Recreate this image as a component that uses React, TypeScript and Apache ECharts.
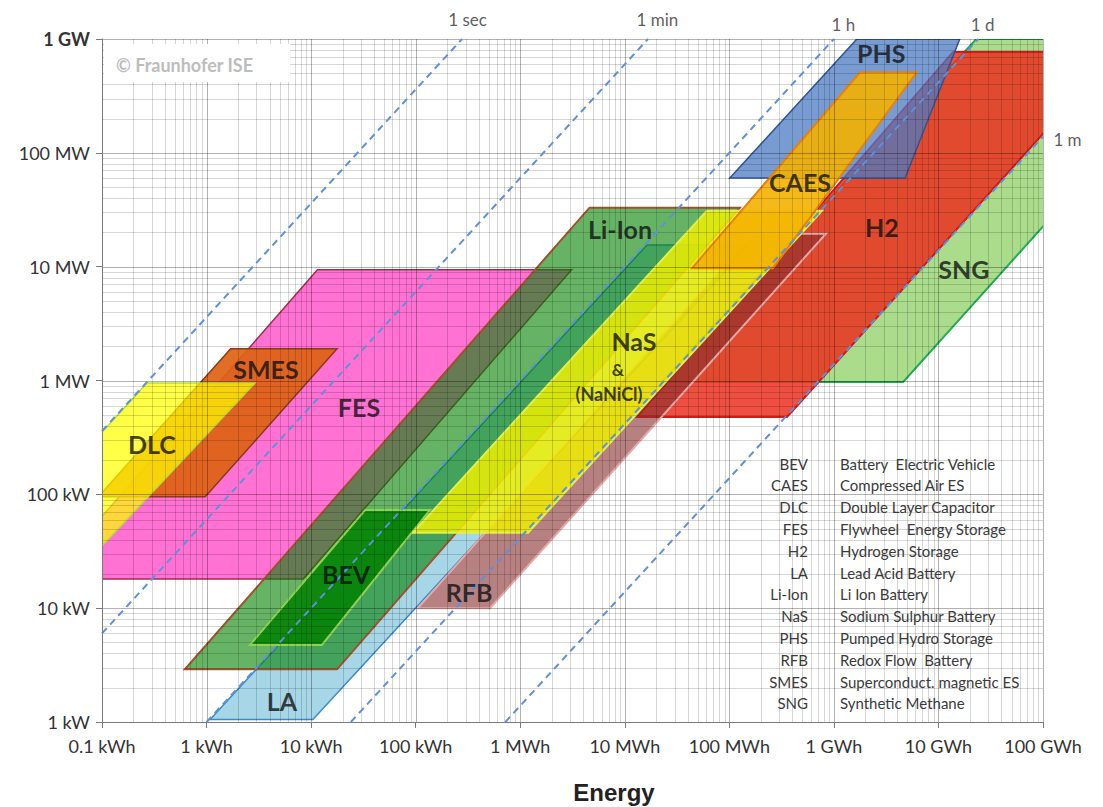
import React, { useEffect, useRef } from "react";
import * as echarts from "echarts";

// ---- axis tick labels (one per decade) ----
const energyTicks = ["0.1 kWh", "1 kWh", "10 kWh", "100 kWh", "1 MWh", "10 MWh", "100 MWh", "1 GWh", "10 GWh", "100 GWh"];
const powerTicks = ["1 kW", "10 kW", "100 kW", "1 MW", "10 MW", "100 MW", "1 GW"];

// ---- storage technology areas: vertices [energy kWh, power kW] ----
const sngArea = [[22700, 970], [4.6e6, 970], [4.1e9, 1e6], [2.3e7, 1e6]];
const fesArea = [[0.03, 18], [8.4, 18], [3100, 9400], [11.5, 9400]];
const smesArea = [[0.092, 95], [0.97, 95], [17.7, 1900], [1.7, 1900]];
const dlcArea = [[0.0083, 29], [0.082, 29], [2.9, 950], [0.27, 950]];
const laArea = [[1.08, 1.05], [10.4, 1.05], [157000, 15500], [16300, 15500]];
const liIonArea = [[0.62, 2.9], [17.7, 2.9], [126000, 33000], [4600, 33000]];
const bevArea = [[2.6, 4.75], [12.7, 4.75], [137, 73], [33, 73]];
const h2Area = [[13100, 478], [356000, 478], [5.1e8, 770000], [1.38e7, 770000]];
const rfbArea = [[105, 10], [514, 10], [840000, 19500], [165000, 19500]];
const nasArea = [[94, 46], [1190, 46], [770000, 31000], [61000, 31000]];
const phsArea = [[101000, 60000], [4.8e6, 60000], [1.6e7, 1e6], [1.66e6, 1e6]];
const caesArea = [[44000, 9700], [261000, 9700], [6.2e6, 510000], [1.78e6, 510000]];

// ---- area labels ----
const techLabels = ["PHS", "CAES", "H2", "SNG", "Li-Ion", "NaS", "&", "(NaNiCl)", "SMES", "FES", "DLC", "BEV", "RFB", "LA"];
const techLabelEnergy = [2.83e6, 4.74e5, 2.88e6, 1.75e7, 9000, 12250, 8600, 7060, 3.7, 28.7, 0.3, 21.6, 324, 5.27];
const techLabelPower = [750000, 55500, 22300, 9540, 21400, 2220, 1240, 760, 1262, 585, 277, 20, 13.9, 1.53];

// ---- constant discharge-time lines ----
const durationHours = [1 / 3600, 1 / 60, 1, 24, 720];
const durationLabels = ["1 sec", "1 min", "1 h", "1 d", "1 m"];

// ---- legend table ----
const abbreviations = ["BEV", "CAES", "DLC", "FES", "H2", "LA", "Li-Ion", "NaS", "PHS", "RFB", "SMES", "SNG"];
const descriptions = [
  "Battery  Electric Vehicle",
  "Compressed Air ES",
  "Double Layer Capacitor",
  "Flywheel  Energy Storage",
  "Hydrogen Storage",
  "Lead Acid Battery",
  "Li Ion Battery",
  "Sodium Sulphur Battery",
  "Pumped Hydro Storage",
  "Redox Flow  Battery",
  "Superconduct. magnetic ES",
  "Synthetic Methane",
];

const E_MIN = 0.1;
const E_MAX = 1e8;
const P_MIN = 1;
const P_MAX = 1e6;
const FONT = "Lato, 'Open Sans', sans-serif";

// styles (kept apart from the data)
const areaStyles: { verts: number[][]; fill: string; stroke: string; lw: number }[] = [
  { verts: sngArea, fill: "rgba(155,214,120,0.85)", stroke: "#1FAF50", lw: 2 },
  { verts: fesArea, fill: "rgba(255,98,206,0.9)", stroke: "#A0304A", lw: 1.5 },
  { verts: smesArea, fill: "rgba(222,98,18,0.92)", stroke: "#8A3A18", lw: 1.5 },
  { verts: dlcArea, fill: "rgba(255,255,0,0.72)", stroke: "#B8E030", lw: 1.5 },
  { verts: laArea, fill: "rgba(155,208,228,0.88)", stroke: "#3A8CC8", lw: 1.5 },
  { verts: liIonArea, fill: "rgba(0,128,0,0.6)", stroke: "#A0522D", lw: 2 },
  { verts: bevArea, fill: "rgba(0,128,0,0.85)", stroke: "#92D050", lw: 2 },
  { verts: h2Area, fill: "rgba(235,48,30,0.85)", stroke: "#D81818", lw: 2 },
  { verts: rfbArea, fill: "rgba(135,45,45,0.6)", stroke: "#E8A8A8", lw: 2 },
  { verts: nasArea, fill: "rgba(240,240,0,0.85)", stroke: "#E0F050", lw: 2 },
  { verts: phsArea, fill: "rgba(75,122,195,0.75)", stroke: "#2F5597", lw: 1.5 },
  { verts: caesArea, fill: "rgba(244,177,0,0.9)", stroke: "#E8820C", lw: 2 },
];
const techLabelSizes = [25, 25, 25, 25, 25, 25, 17, 18, 25, 25, 25, 25, 25, 25];
const lineLabelOffsets = [[6, -19], [10, -19], [10, -14], [5, -14], [25, 3]];

function decadeIndex(v: number) {
  return Math.round(Math.log10(v));
}

function buildOption() {
  // grid line positions (decades and 2..9 subdivisions)
  const gridItems: { dir: number; v: number; major: boolean }[] = [];
  for (let n = -1; n <= 8; n++) {
    for (let k = 1; k <= 9; k++) {
      const v = k * Math.pow(10, n);
      if (v > E_MAX * 1.0001) break;
      gridItems.push({ dir: 0, v, major: k === 1 });
    }
  }
  for (let n = 0; n <= 6; n++) {
    for (let k = 1; k <= 9; k++) {
      const v = k * Math.pow(10, n);
      if (v > P_MAX * 1.0001) break;
      gridItems.push({ dir: 1, v, major: k === 1 });
    }
  }

  const areaSeries = areaStyles.map((a, i) => ({
    type: "custom",
    name: "area" + i,
    coordinateSystem: "cartesian2d",
    clip: true,
    silent: true,
    z: 2,
    data: [a.verts[0]],
    renderItem: (_p: any, api: any) => ({
      type: "polygon",
      shape: { points: a.verts.map((v) => api.coord(v)) },
      style: { fill: a.fill, stroke: a.stroke, lineWidth: a.lw, lineJoin: "miter" },
    }),
  }));

  const gridSeries = {
    type: "custom",
    name: "grid",
    coordinateSystem: "cartesian2d",
    silent: true,
    z: 3,
    data: gridItems.map((g) => (g.dir === 0 ? [g.v, P_MIN] : [E_MIN, g.v])),
    renderItem: (params: any, api: any) => {
      const g = gridItems[params.dataIndex];
      const a = g.dir === 0 ? api.coord([g.v, P_MIN]) : api.coord([E_MIN, g.v]);
      const b = g.dir === 0 ? api.coord([g.v, P_MAX]) : api.coord([E_MAX, g.v]);
      const r = (n: number) => Math.round(n) + 0.5;
      const shape =
        g.dir === 0
          ? { x1: r(a[0]), y1: a[1], x2: r(b[0]), y2: b[1] }
          : { x1: a[0], y1: r(a[1]), x2: b[0], y2: r(b[1]) };
      return {
        type: "line",
        shape,
        style: { stroke: g.major ? "rgba(0,0,0,0.3)" : "rgba(0,0,0,0.16)", lineWidth: 1 },
      };
    },
  };

  const durationSeries = durationHours.map((t, i) => {
    const pLow = Math.max(P_MIN, E_MIN / t);
    const pHigh = Math.min(P_MAX, E_MAX / t);
    return {
      type: "line",
      name: durationLabels[i],
      silent: true,
      symbol: "none",
      z: 4,
      data: [
        [pLow * t, pLow],
        [pHigh * t, pHigh],
      ],
      lineStyle: { color: "#6090D8", width: 2, type: [7, 5] },
    };
  });

  const durationLabelSeries = {
    type: "scatter",
    name: "durationLabels",
    silent: true,
    z: 6,
    symbolSize: 1,
    itemStyle: { color: "rgba(0,0,0,0)" },
    data: durationHours.map((t, i) => {
      const pHigh = Math.min(P_MAX, E_MAX / t);
      return { value: [pHigh * t, pHigh], label: { position: lineLabelOffsets[i] } };
    }),
    label: {
      show: true,
      formatter: (p: any) => durationLabels[p.dataIndex],
      fontFamily: FONT,
      fontSize: 17,
      color: "#333",
      align: "center",
      verticalAlign: "middle",
    },
  };

  const techLabelSeries = {
    type: "scatter",
    name: "techLabels",
    silent: true,
    z: 6,
    symbolSize: 1,
    itemStyle: { color: "rgba(0,0,0,0)" },
    data: techLabels.map((name, i) => ({
      name,
      value: [techLabelEnergy[i], techLabelPower[i]],
      label: { fontSize: techLabelSizes[i] },
    })),
    label: {
      show: true,
      position: "inside",
      formatter: "{b}",
      fontFamily: FONT,
      fontWeight: "bold",
      color: "#111",
      align: "center",
      verticalAlign: "middle",
    },
  };

  const legendGraphics: any[] = [];
  abbreviations.forEach((a, i) => {
    legendGraphics.push({
      type: "text",
      x: 808,
      y: 463.5 + i * 21.8,
      z: 12,
      style: { text: a, align: "right", verticalAlign: "middle", fontFamily: FONT, fontSize: 15, fill: "#3a3a3a" },
    });
    legendGraphics.push({
      type: "text",
      x: 840,
      y: 463.5 + i * 21.8,
      z: 12,
      style: { text: descriptions[i], align: "left", verticalAlign: "middle", fontFamily: FONT, fontSize: 15, fill: "#3a3a3a" },
    });
  });

  return {
    animation: false,
    backgroundColor: "#ffffff",
    grid: { left: 102, top: 39, width: 941, height: 683, containLabel: false, outerBoundsMode: "none" },
    xAxis: {
      type: "log",
      logBase: 10,
      min: E_MIN,
      max: E_MAX,
      interval: 1,
      z: 8,
      axisLine: { show: true, lineStyle: { color: "#7a7a7a", width: 1 } },
      axisTick: { show: true, length: 6, lineStyle: { color: "#7a7a7a" } },
      splitLine: { show: false },
      minorTick: { show: false },
      axisLabel: {
        margin: 15,
        fontFamily: FONT,
        fontSize: 18,
        color: "#333",
        formatter: (v: number) => energyTicks[decadeIndex(v) + 1] ?? "",
      },
    },
    yAxis: {
      type: "log",
      logBase: 10,
      min: P_MIN,
      max: P_MAX,
      interval: 1,
      z: 8,
      axisLine: { show: true, lineStyle: { color: "#7a7a7a", width: 1 } },
      axisTick: { show: true, length: 6, lineStyle: { color: "#7a7a7a" } },
      splitLine: { show: false },
      axisLabel: {
        margin: 12,
        fontFamily: FONT,
        fontSize: 18,
        color: "#333",
        formatter: (v: number) => {
          const idx = decadeIndex(v);
          const t = powerTicks[idx] ?? "";
          return idx === 6 ? "{b|" + t + "}" : t;
        },
        rich: { b: { fontFamily: FONT, fontSize: 18, fontWeight: "bold", color: "#333" } },
      },
    },
    graphic: [
      { type: "rect", shape: { x: 104, y: 44, width: 186, height: 38 }, style: { fill: "#ffffff" }, z: 10 },
      {
        type: "text",
        x: 116,
        y: 65,
        z: 11,
        style: { text: "© Fraunhofer ISE", verticalAlign: "middle", fontFamily: FONT, fontWeight: "bold", fontSize: 18, fill: "#BDBDBD" },
      },
      {
        type: "text",
        x: 614,
        y: 792,
        z: 11,
        style: { text: "Energy", align: "center", verticalAlign: "middle", fontFamily: "'Liberation Sans', Arial, sans-serif", fontWeight: "bold", fontSize: 24, fill: "#222" },
      },
      ...legendGraphics,
    ],
    series: [...areaSeries, gridSeries, ...durationSeries, durationLabelSeries, techLabelSeries],
  };
}

export default function App() {
  const ref = useRef<HTMLDivElement>(null);
  useEffect(() => {
    if (!ref.current) return;
    const chart = echarts.init(ref.current, null, { renderer: "svg" });
    chart.setOption(buildOption() as any);
    return () => chart.dispose();
  }, []);
  return (
    <div
      ref={ref}
      style={{ position: "absolute", left: 0, top: 0, width: 1103, height: 807, background: "#ffffff" }}
    />
  );
}
